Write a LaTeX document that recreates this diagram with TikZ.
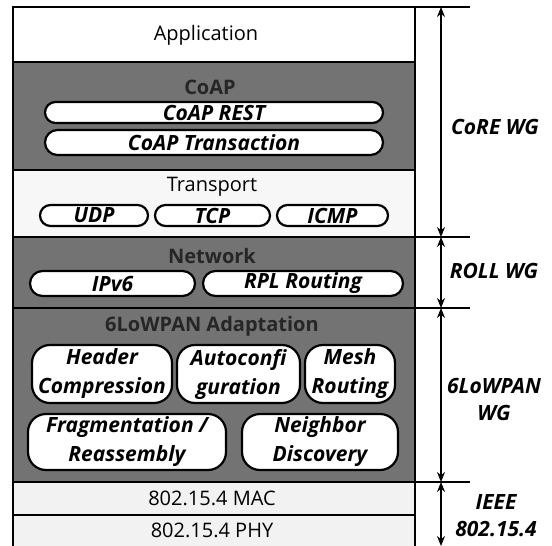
\documentclass[tikz,border=0pt]{standalone}
\usepackage{fontspec}
\setmainfont{Open Sans}
\usetikzlibrary{arrows.meta}
\begin{document}
\begin{tikzpicture}[x=1pt,y=-1pt,
  every node/.style={font=\fontsize{20}{22}\selectfont},
  pill/.style={draw,line width=2.2pt,fill=white,inner sep=0pt,align=center,font=\fontsize{21}{29}\selectfont\bfseries\itshape},
  darktitle/.style={font=\fontsize{20}{22}\selectfont\bfseries,text=black!85},
  wg/.style={align=center,font=\fontsize{21}{27}\selectfont\bfseries\itshape},
  span/.style={{Stealth[length=10pt,width=8pt]}-{Stealth[length=10pt,width=8pt]},line width=1.2pt}]
\useasboundingbox (0,0) rectangle (552,546);
% layer bands
\fill[white]    (13,7)   rectangle (415,62);
\fill[black!55] (13,62)  rectangle (415,170);
\fill[black!3]  (13,170) rectangle (415,237);
\fill[black!55] (13,237) rectangle (415,308);
\fill[black!55] (13,308) rectangle (415,482);
\fill[black!5]  (13,482) rectangle (415,546);
\draw[line width=1.4pt] (13,546) -- (13,7) -- (470,7);
\draw[line width=1.4pt] (415,7) -- (415,546);
\foreach \y in {62,170,515} \draw[line width=1.4pt] (13,\y) -- (415,\y);
\foreach \y in {237,308,482} \draw[line width=1.4pt] (13,\y) -- (470,\y);
% layer titles
\node (app)   at (206,35)  {Application};
\node[darktitle] (coap) at (210,87) {CoAP};
\node (trans) at (212,187) {Transport};
\node[darktitle] (net)  at (212,256) {Network};
\node[darktitle] (lowpan) at (212,326) {6LoWPAN Adaptation};
\node (mac)   at (212,498) {802.15.4 MAC};
\node (phy)   at (212,530) {802.15.4 PHY};
% protocol pills
\node[pill,minimum width=338,minimum height=21,rounded corners=10.5pt] (rest) at (214,112.5) {CoAP REST};
\node[pill,minimum width=338,minimum height=25,rounded corners=12.5pt] (trx)  at (214,142.5) {CoAP Transaction};
\node[pill,minimum width=108,minimum height=21,rounded corners=10.5pt] (udp)  at (94,215.5)  {UDP};
\node[pill,minimum width=115,minimum height=21,rounded corners=10.5pt] (tcp)  at (212.5,215.5) {TCP};
\node[pill,minimum width=111,minimum height=21,rounded corners=10.5pt] (icmp) at (332.5,215.5) {ICMP};
\node[pill,minimum width=165,minimum height=25,rounded corners=12.5pt] (ipv6) at (112.5,283.5) {IPv6};
\node[pill,minimum width=200,minimum height=25,rounded corners=12.5pt] (rpl)  at (303,283.5) {RPL Routing};
\node[pill,minimum width=140,minimum height=58,rounded corners=18pt] (hc)   at (102,374)   {Header\\Compression};
\node[pill,minimum width=123,minimum height=58,rounded corners=18pt] (auto) at (238.5,374) {Autoconfi\\guration};
\node[pill,minimum width=90,minimum height=58,rounded corners=18pt]  (mesh) at (350,374)   {Mesh\\Routing};
\node[pill,minimum width=198,minimum height=56,rounded corners=18pt] (frag) at (127,442)   {Fragmentation /\\Reassembly};
\node[pill,minimum width=156,minimum height=56,rounded corners=18pt] (nd)   at (320,442)   {Neighbor\\Discovery};
% working groups
\coordinate (a0) at (441,7);
\coordinate (a1) at (441,237);
\coordinate (a2) at (441,308);
\coordinate (a3) at (441,482);
\coordinate (a4) at (441,546);
\foreach \s/\e in {a0/a1,a1/a2,a2/a3,a3/a4} \draw[span] (\s) -- (\e);
\node[wg] (core) at (495,127) {CoRE WG};
\node[wg] (roll) at (494,271) {ROLL WG};
\node[wg] (lwg)  at (494,399) {6LoWPAN\\WG};
\node[wg] (ieee) at (496,516) {IEEE\\802.15.4};
\end{tikzpicture}
\end{document}
